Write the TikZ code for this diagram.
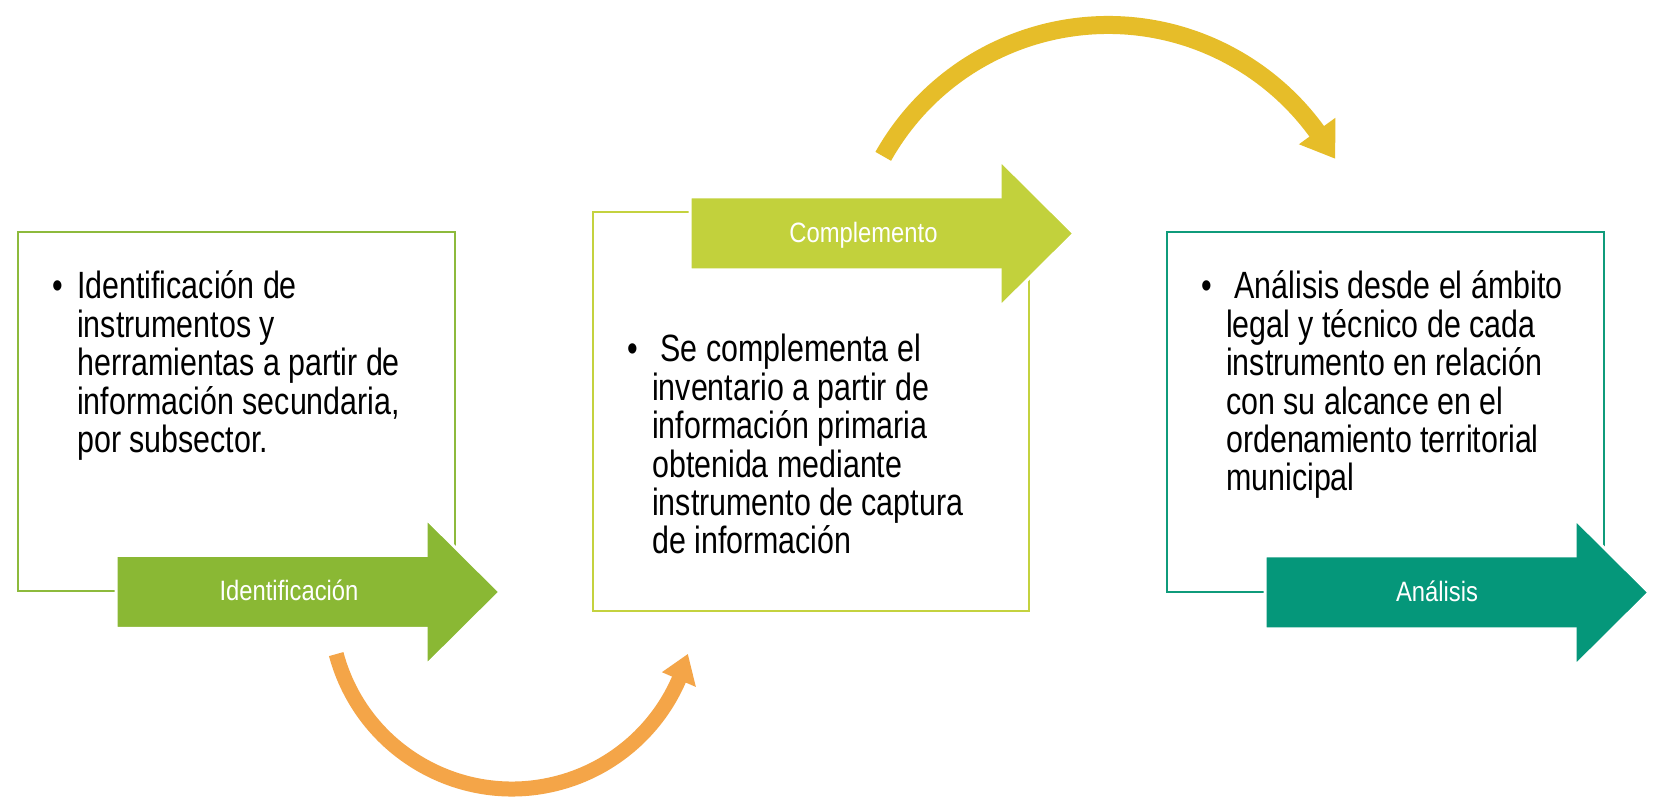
\documentclass[tikz,border=0pt]{standalone}
\usepackage{fontspec}
\setmainfont{Liberation Sans}[FakeStretch=0.80]
\newfontfamily\labelfont{Liberation Sans}[FakeStretch=0.85]
\definecolor{boxA}{HTML}{8DBA3C}
\definecolor{arrowA}{HTML}{8AB834}
\definecolor{boxB}{HTML}{C4D23F}
\definecolor{arrowB}{HTML}{C2D13C}
\definecolor{boxC}{HTML}{0F9B7B}
\definecolor{arrowC}{HTML}{05977A}
\definecolor{orangeC}{HTML}{F4A548}
\definecolor{yellowC}{HTML}{E6BD29}
\newcommand\blockarrowat[3]{\path[fill=#3, draw=white, line width=3pt] (#1,#2) ++(0,-36.5) -- ++(310,0) -- ++(0,-37) -- ++(74,73.5) -- ++(-74,73.5) -- ++(0,-37) -- ++(-310,0) -- cycle;}
\newcommand\bulmark{\llap{\hbox to 24.5pt{•\hss}}}
\tikzset{
  framebox/.style={draw, line width=2pt, inner sep=0pt, anchor=south west},
  arrowlabel/.style={text=white, inner sep=0pt, anchor=base, font=\labelfont\fontsize{28}{30}\selectfont},
  bodytext/.style={inner sep=0pt, anchor=base west, text=black, font=\fontsize{38}{38.4}\selectfont},
}
\begin{document}
\begin{tikzpicture}[x=1pt,y=1pt]
\useasboundingbox (0,0) rectangle (1663,800);
\fill[white] (0,0) rectangle (1663,800);

% frames
\node[framebox, draw=boxA, minimum width=437pt, minimum height=359pt] (b1) at (17,208) {};
\node[framebox, draw=boxB, minimum width=436pt, minimum height=399pt] (b2) at (592,188) {};
\node[framebox, draw=boxC, minimum width=437pt, minimum height=360pt] (b3) at (1166,207) {};

% block arrows
\blockarrowat{116}{208}{arrowA}
\blockarrowat{690}{566.5}{arrowB}
\blockarrowat{1265}{207.5}{arrowC}

\node[arrowlabel] (l1) at (289,199) {Identificación};
\node[arrowlabel] (l2) at (863.5,557.5) {Complemento};
\node[arrowlabel] (l3) at (1437,198.5) {Análisis};

% body texts
\node[bodytext] (t1) at (77,501) {\vtop{\baselineskip=38.4pt\lineskiplimit=-100pt
  \hbox{\bulmark Identificación de}
  \hbox{instrumentos y}
  \hbox{herramientas a partir de}
  \hbox{información secundaria,}
  \hbox{por subsector.}}};
\node[bodytext] (t2) at (652,438) {\vtop{\baselineskip=38.4pt\lineskiplimit=-100pt
  \hbox{\bulmark\ Se complementa el}
  \hbox{inventario a partir de}
  \hbox{información primaria}
  \hbox{obtenida mediante}
  \hbox{instrumento de captura}
  \hbox{de información}}};
\node[bodytext] (t3) at (1226,501) {\vtop{\baselineskip=38.4pt\lineskiplimit=-100pt
  \hbox{\bulmark\ Análisis desde el ámbito}
  \hbox{legal y técnico de cada}
  \hbox{instrumento en relación}
  \hbox{con su alcance en el}
  \hbox{ordenamiento territorial}
  \hbox{municipal}}};

% curved arrows
\coordinate (oc) at (512,193);
\draw[orangeC, line width=15pt] (oc) ++(195:182) arc[start angle=195, end angle=337.5, radius=182];
\fill[orangeC] (oc) +(336.5:163.5) -- +(345:182) -- +(336.5:200.5) -- cycle;

\coordinate (yc) at (1108,517);
\draw[yellowC, line width=18pt] (yc) ++(150.6:258) arc[start angle=150.6, end angle=35, radius=258];
\fill[yellowC] (yc) +(36:236) -- +(28.7:259) -- +(36:281) -- cycle;
\end{tikzpicture}
\end{document}
